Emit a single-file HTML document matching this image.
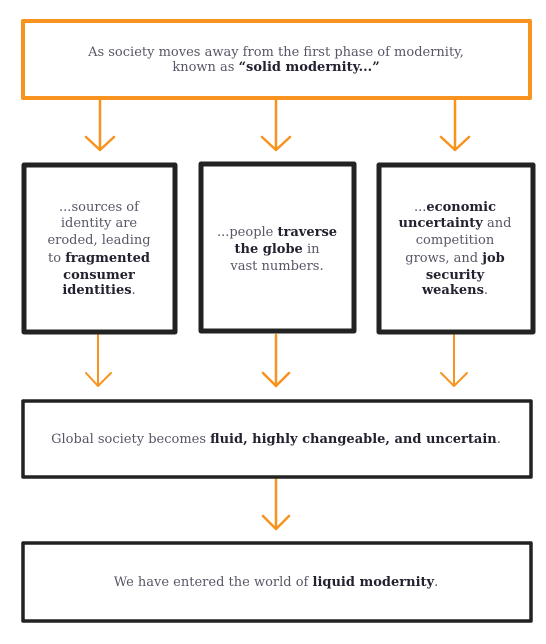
<!DOCTYPE html>
<html><head><meta charset="utf-8"><style>
html,body{margin:0;padding:0;background:#fff;}
svg{display:block;}
text{font-family:"DejaVu Serif","Liberation Serif",serif;font-size:13px;fill:#5a5566;text-anchor:middle;}
.b{font-weight:bold;fill:#222230;}
</style></head><body>
<svg width="546" height="644" viewBox="0 0 546 644" xmlns="http://www.w3.org/2000/svg">
<g fill="none" stroke-linecap="round" stroke-linejoin="round">
<rect x="23" y="21" width="507" height="77" stroke="#f7931e" stroke-width="4"/>
<g stroke="#f7931e" stroke-width="2.5">
<path d="M100 99V150M86 137L100 150L114 137"/>
<path d="M276 99V150M262 137L276 150L290 137"/>
<path d="M455 99V150M441 137L455 150L469 137"/>
<path d="M98 335V386M86 373L98 386L111 373" stroke-width="2"/>
<path d="M276 335V386M263 373L276 386L289 373"/>
<path d="M454 335V386M441 373L454 386L467 373" stroke-width="2"/>
<path d="M276 479V529M263 516L276 529L289 516"/>
</g>
<g stroke="#222" stroke-width="5">
<rect x="24" y="165" width="151" height="167"/>
<rect x="201" y="164" width="153" height="167"/>
<rect x="379" y="165" width="154" height="167"/>
</g>
<g stroke="#222" stroke-width="3.5">
<rect x="23" y="401" width="508" height="76"/>
<rect x="23" y="543" width="508" height="78"/>
</g>
</g>
<text x="276" y="56">As society moves away from the first phase of modernity,</text>
<text x="276" y="71">known as <tspan class="b">“solid modernity...”</tspan></text>

<text x="99" y="211">...sources of</text>
<text x="99" y="227">identity are</text>
<text x="99" y="244">eroded, leading</text>
<text x="99" y="262">to <tspan class="b">fragmented</tspan></text>
<text class="b" x="99" y="279">consumer</text>
<text x="99" y="294"><tspan class="b">identities</tspan>.</text>

<text x="277" y="236">...people <tspan class="b">traverse</tspan></text>
<text x="277" y="253"><tspan class="b">the globe</tspan> in</text>
<text x="277" y="270">vast numbers.</text>

<text x="455" y="211">...<tspan class="b">economic</tspan></text>
<text x="455" y="227"><tspan class="b">uncertainty</tspan> and</text>
<text x="455" y="244">competition</text>
<text x="455" y="262">grows, and <tspan class="b">job</tspan></text>
<text x="455" y="279" class="b">security</text>
<text x="455" y="294"><tspan class="b">weakens</tspan>.</text>

<text x="276" y="443">Global society becomes <tspan class="b">fluid, highly changeable, and uncertain</tspan>.</text>
<text x="276" y="586">We have entered the world of <tspan class="b">liquid modernity</tspan>.</text>
</svg>
</body></html>
